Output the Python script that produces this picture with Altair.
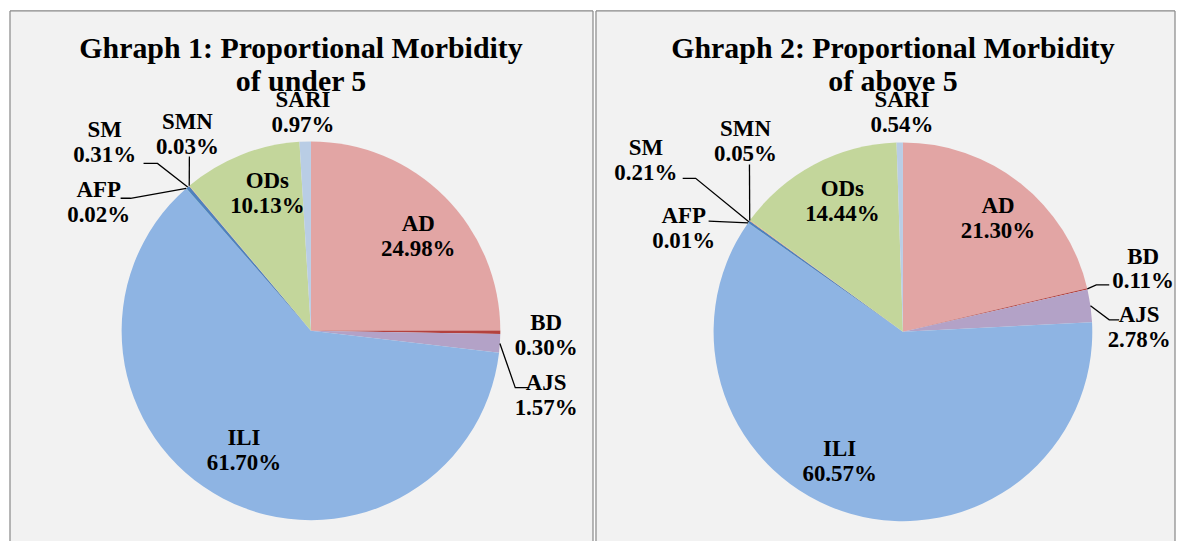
import math
import altair as alt
import pandas as pd

# ---- data ----
categories = ["AD", "BD", "AJS", "ILI", "AFP", "SM", "SMN", "ODs", "SARI"]
under5 = [24.98, 0.30, 1.57, 61.70, 0.02, 0.31, 0.03, 10.13, 0.97]
above5 = [21.30, 0.11, 2.78, 60.57, 0.01, 0.21, 0.05, 14.44, 0.54]
title1 = ["Ghraph 1: Proportional Morbidity", "of under 5"]
title2 = ["Ghraph 2: Proportional Morbidity", "of above 5"]

# ---- style ----
colors = ["#e2a5a4", "#b3413e", "#b3a2c7", "#8eb4e3", "#4bacc6",
          "#4f81bd", "#f2a36b", "#c3d69b", "#b9cde5"]
FONT = "Liberation Serif"
R = 190
LH = 25          # label line height
BORDER = "#878787"

# label layout (pixel offsets of label-block centre from pie centre, y downwards)
layout1 = dict(
    width=585, height=532, cx=302, cy=321, title_x=292, title_y=38,
    inside={"AD": (7, 6), "ODs": (9, -5), "ILI": (-1, -6)},
    outside={"SARI": (-8, -219), "SMN": (-124, -197), "SM": (-207, -189),
             "AFP": (-213, -129), "BD": (236, 5), "AJS": (236, 65)},
    leaders={"SMN": [(-122, -175)],
             "SM": [(-154, -168), (-168, -168)],
             "AFP": [(-181, -133), (-191, -133)],
             "AJS": [(205, 57), (219, 57)]},
)
layout2 = dict(
    width=581, height=532, cx=308, cy=322, title_x=298, title_y=38,
    inside={"AD": (7, -2), "ODs": (6, -5), "ILI": (-24, -7)},
    outside={"SARI": (-1, -220), "SMN": (-158, -191), "SM": (-258, -172),
             "AFP": (-220, -104), "BD": (241, -63), "AJS": (237, -4)},
    leaders={"SMN": [(-154, -168)],
             "SM": [(-208, -154), (-221, -154)],
             "AFP": [(-195, -111)],
             "BD": [(194, -47), (207, -47)],
             "AJS": [(207, -12), (217, -12)]},
)


def panel(values, lay, title_lines):
    total = sum(values)
    cum = 0.0
    arc_rows, text_rows, line_rows = [], [], []
    for i, (c, v) in enumerate(zip(categories, values)):
        mid = (cum + v / 2) / total * 2 * math.pi
        cum += v
        arc_rows.append(dict(cat=c, value=v, idx=i, cx=0, cy=0))
        if c in lay["inside"]:
            nx, ny = lay["inside"][c]
            dx = 0.75 * R * math.sin(mid) + nx
            dy = -0.75 * R * math.cos(mid) + ny
        else:
            dx, dy = lay["outside"][c]
        # first line is placed at y; shift so the two-line block is centred
        text_rows.append(dict(cat=c, label=f"{c}\n{v:.2f}%", x=dx, y=-(dy - LH / 2)))
        if c in lay["leaders"]:
            pts = [(R * math.sin(mid), -R * math.cos(mid))] + lay["leaders"][c]
            for k, (px, py) in enumerate(pts):
                line_rows.append(dict(cat=c, k=k, x=px, y=-py))

    W, H, cx, cy = lay["width"], lay["height"], lay["cx"], lay["cy"]
    xs = alt.Scale(domain=[-cx, W - cx], nice=False, zero=False)
    ys = alt.Scale(domain=[-(H - cy), cy], nice=False, zero=False)

    arcs = alt.Chart(pd.DataFrame(arc_rows)).mark_arc(outerRadius=R).encode(
        x=alt.X("cx:Q", scale=xs, axis=None),
        y=alt.Y("cy:Q", scale=ys, axis=None),
        theta=alt.Theta("value:Q", stack=True),
        order=alt.Order("idx:Q"),
        color=alt.Color("cat:N", scale=alt.Scale(domain=categories, range=colors),
                        legend=None),
    )
    lines = alt.Chart(pd.DataFrame(line_rows)).mark_line(
        color="black", strokeWidth=1.3).encode(
        x=alt.X("x:Q", scale=xs, axis=None),
        y=alt.Y("y:Q", scale=ys, axis=None),
        detail="cat:N",
        order="k:Q",
    )
    texts = alt.Chart(pd.DataFrame(text_rows)).mark_text(
        font=FONT, fontWeight="bold", fontSize=23, lineBreak="\n",
        lineHeight=LH, align="center", baseline="middle", color="black").encode(
        x=alt.X("x:Q", scale=xs, axis=None),
        y=alt.Y("y:Q", scale=ys, axis=None),
        text="label:N",
    )
    dummy = pd.DataFrame({"t": [0]})
    title = alt.Chart(dummy).mark_text(
        text=title_lines, font=FONT, fontWeight="bold", fontSize=30,
        lineHeight=33, align="center", baseline="middle", color="black").encode(
        x=alt.value(lay["title_x"]), y=alt.value(lay["title_y"]))
    # panel frame: left, top and right edges (the bottom runs off the page)
    top = alt.Chart(dummy).mark_rule(color=BORDER, strokeWidth=1.2).encode(
        x=alt.value(0), x2=alt.value(W), y=alt.value(0))
    left = alt.Chart(dummy).mark_rule(color=BORDER, strokeWidth=1.2).encode(
        x=alt.value(0), y=alt.value(0), y2=alt.value(H))
    right = alt.Chart(dummy).mark_rule(color=BORDER, strokeWidth=1.2).encode(
        x=alt.value(W), y=alt.value(0), y2=alt.value(H))
    return alt.layer(arcs, lines, texts, title, top, left, right).properties(
        width=W, height=H)


chart = alt.hconcat(
    panel(under5, layout1, title1),
    panel(above5, layout2, title2),
    spacing=1,
).configure_view(
    fill="#f2f2f2", stroke=None
).properties(
    padding={"left": 1, "top": 1, "right": 0, "bottom": 0},
    background="white",
)

chart.save("out.html", embed_options={"renderer": "svg", "actions": False})
